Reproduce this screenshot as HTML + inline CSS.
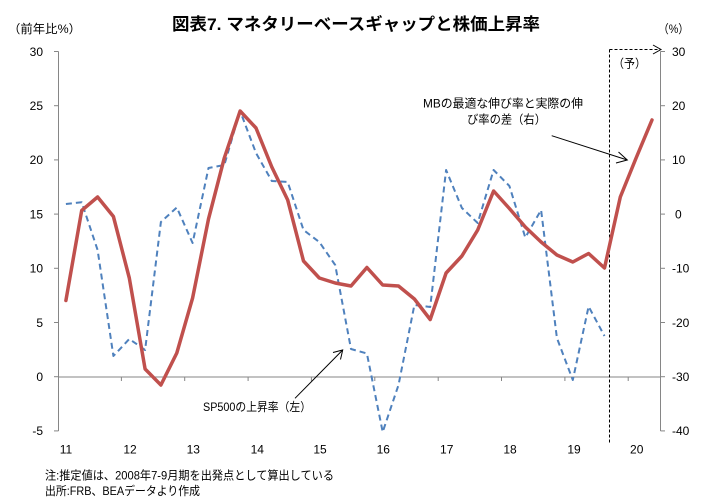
<!DOCTYPE html>
<html>
<head>
<meta charset="utf-8">
<style>
html,body{margin:0;padding:0;background:#fff;}
svg{display:block;}
text{font-family:"Liberation Sans","Noto Sans CJK JP",sans-serif;fill:#000;}
</style>
</head>
<body>
<svg width="719" height="504" viewBox="0 0 719 504" xmlns="http://www.w3.org/2000/svg">
<rect x="0" y="0" width="719" height="504" fill="#fff"/>

<!-- Title -->
<text x="172" y="30" font-size="17" font-weight="bold" textLength="368" lengthAdjust="spacingAndGlyphs">図表7. マネタリーベースギャップと株価上昇率</text>

<!-- axis unit labels -->
<text x="8" y="33" font-size="12" textLength="73" lengthAdjust="spacingAndGlyphs">（前年比%）</text>
<text x="658" y="33" font-size="12" textLength="31" lengthAdjust="spacingAndGlyphs">（%）</text>

<!-- left axis -->
<g stroke="#868686" stroke-width="1" fill="none">
<line x1="58.5" y1="51.5" x2="58.5" y2="431"/>
<line x1="54" y1="51.5" x2="58.5" y2="51.5"/>
<line x1="54" y1="105.7" x2="58.5" y2="105.7"/>
<line x1="54" y1="159.9" x2="58.5" y2="159.9"/>
<line x1="54" y1="214.1" x2="58.5" y2="214.1"/>
<line x1="54" y1="268.3" x2="58.5" y2="268.3"/>
<line x1="54" y1="322.5" x2="58.5" y2="322.5"/>
<line x1="54" y1="376.7" x2="58.5" y2="376.7"/>
<line x1="54" y1="430.9" x2="58.5" y2="430.9"/>
<!-- right axis -->
<line x1="660.5" y1="51.5" x2="660.5" y2="431"/>
<line x1="660.5" y1="51.5" x2="665" y2="51.5"/>
<line x1="660.5" y1="105.7" x2="665" y2="105.7"/>
<line x1="660.5" y1="159.9" x2="665" y2="159.9"/>
<line x1="660.5" y1="214.1" x2="665" y2="214.1"/>
<line x1="660.5" y1="268.3" x2="665" y2="268.3"/>
<line x1="660.5" y1="322.5" x2="665" y2="322.5"/>
<line x1="660.5" y1="376.7" x2="665" y2="376.7"/>
<line x1="660.5" y1="430.9" x2="665" y2="430.9"/>
<!-- category axis at 0 -->
<line x1="58.5" y1="377" x2="660.5" y2="377"/>
<line x1="121.4" y1="377" x2="121.4" y2="381"/>
<line x1="184.7" y1="377" x2="184.7" y2="381"/>
<line x1="248.1" y1="377" x2="248.1" y2="381"/>
<line x1="311.4" y1="377" x2="311.4" y2="381"/>
<line x1="374.8" y1="377" x2="374.8" y2="381"/>
<line x1="438.2" y1="377" x2="438.2" y2="381"/>
<line x1="501.5" y1="377" x2="501.5" y2="381"/>
<line x1="564.9" y1="377" x2="564.9" y2="381"/>
<line x1="628.2" y1="377" x2="628.2" y2="381"/>
</g>

<!-- left labels -->
<g font-size="12" text-anchor="end">
<text x="43" y="56">30</text>
<text x="43" y="110">25</text>
<text x="43" y="164">20</text>
<text x="43" y="218.5">15</text>
<text x="43" y="272.5">10</text>
<text x="43" y="327">5</text>
<text x="43" y="381">0</text>
<text x="43" y="435">-5</text>
</g>
<!-- right labels -->
<g font-size="12">
<text x="672" y="56">30</text>
<text x="672" y="110">20</text>
<text x="672" y="164">10</text>
<text x="675" y="218.5">0</text>
<text x="672" y="272.5">-10</text>
<text x="672" y="327">-20</text>
<text x="672" y="381">-30</text>
<text x="672" y="435">-40</text>
</g>
<!-- category labels -->
<g font-size="12" text-anchor="middle">
<text x="66" y="453.5">11</text>
<text x="130" y="453.5">12</text>
<text x="193.3" y="453.5">13</text>
<text x="257.3" y="453.5">14</text>
<text x="320" y="453.5">15</text>
<text x="383.3" y="453.5">16</text>
<text x="446.7" y="453.5">17</text>
<text x="510" y="453.5">18</text>
<text x="574" y="453.5">19</text>
<text x="636.7" y="453.5">20</text>
</g>

<!-- forecast marker -->
<g stroke="#000" stroke-width="1" fill="none">
<line x1="609.5" y1="49.5" x2="609.5" y2="443" stroke-dasharray="3,2"/>
<line x1="609.5" y1="49.5" x2="660" y2="49.5" stroke-dasharray="3,2"/>
<polyline points="653,45 661,49.5 653,54"/>
</g>
<text x="613" y="67.5" font-size="12" textLength="33" lengthAdjust="spacingAndGlyphs">（予）</text>

<!-- blue dashed series -->
<polyline fill="none" stroke="#4f81bd" stroke-width="2" stroke-dasharray="6,4" stroke-linejoin="round"
points="65.9,204 81.7,202.3 97.6,250 113.4,356 129.3,339 145.1,350 160.9,222 176.8,207.5 192.6,243 208.5,168 224.3,165 240.1,111 256,153 271.8,181 287.7,182 303.5,230 319.3,242 335.2,265 351,349 366.9,353.5 382.7,432 398.5,385 414.4,305 430.2,307 446.1,170 461.9,208 477.7,223 493.6,170 509.4,186 525.3,237.5 541.1,210 556.9,338 572.8,380 588.6,306.5 604.5,336"/>

<!-- red series -->
<polyline fill="none" stroke="#c0504d" stroke-width="3.5" stroke-linejoin="round" stroke-linecap="round"
points="65.9,300.5 81.7,210.5 97.6,197 113.4,216.5 129.3,278 145.1,369 160.9,385 176.8,353 192.6,298 208.5,219 224.3,158 240.1,111 256,128 271.8,167 287.7,200 303.5,261 319.3,278 335.2,283 351,286 366.9,267.5 382.7,285 398.5,286 414.4,299 430.2,319.5 446.1,273 461.9,256 477.7,230 493.6,191 509.4,208.5 525.3,227 541.1,242 556.9,255 572.8,262 588.6,253.5 604.5,268 620.3,197 636.1,158 652,120"/>

<!-- annotation arrows -->
<g stroke="#000" stroke-width="1" fill="none">
<line x1="551.7" y1="135.7" x2="627.3" y2="160"/>
<polyline points="618.5,152 627.3,160 616,163"/>
<line x1="295" y1="398.3" x2="342.7" y2="350"/>
<polyline points="333,352.5 342.7,350 340.5,359.5"/>
</g>

<!-- annotation texts -->
<text x="423" y="107.5" font-size="12" textLength="160" lengthAdjust="spacingAndGlyphs">MBの最適な伸び率と実際の伸</text>
<text x="467" y="123.5" font-size="12" textLength="79" lengthAdjust="spacingAndGlyphs">び率の差（右）</text>
<text x="203" y="411" font-size="12" textLength="108" lengthAdjust="spacingAndGlyphs">SP500の上昇率（左）</text>

<!-- notes -->
<text x="45" y="479.5" font-size="12" textLength="289" lengthAdjust="spacingAndGlyphs">注:推定値は、2008年7-9月期を出発点として算出している</text>
<text x="45" y="495" font-size="12" textLength="155" lengthAdjust="spacingAndGlyphs">出所:FRB、BEAデータより作成</text>
</svg>
</body>
</html>
